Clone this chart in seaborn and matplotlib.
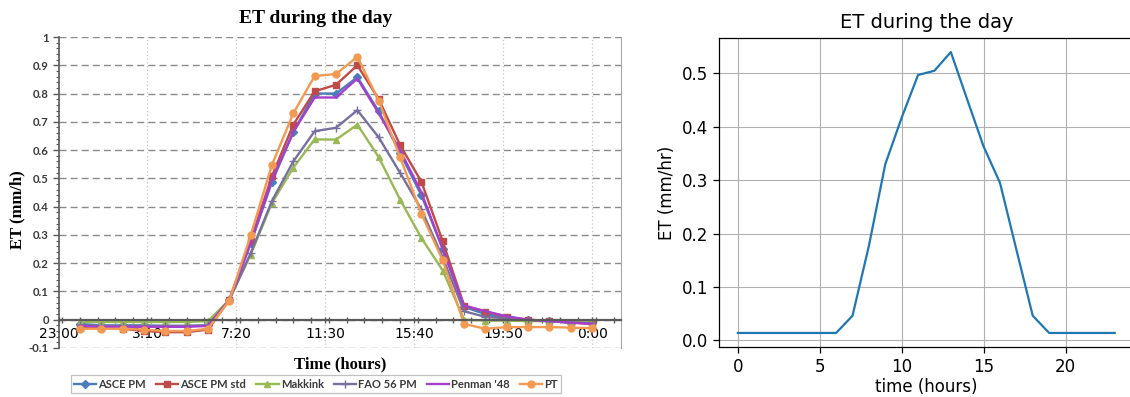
import numpy as np
import matplotlib
matplotlib.use("Agg")
import matplotlib.pyplot as plt
from matplotlib.ticker import FixedLocator, MultipleLocator
import seaborn as sns

# ---- left panel: hourly ET from six methods (hour 0 .. 24) ----
hours_left = [0, 1, 2, 3, 4, 5, 6, 7, 8, 9, 10, 11, 12, 13, 14, 15, 16, 17, 18, 19, 20, 21, 22, 23, 24]

asce_pm = [-0.015, -0.02, -0.02, -0.02, -0.022, -0.022, -0.02, 0.07, 0.27, 0.487, 0.664, 0.80, 0.80,
           0.858, 0.737, 0.59, 0.44, 0.251, 0.045, 0.02, 0.005, 0.0, -0.005, -0.01, -0.01]
asce_pm_std = [-0.03, -0.03, -0.032, -0.04, -0.044, -0.044, -0.035, 0.07, 0.28, 0.508, 0.69, 0.808, 0.831,
               0.90, 0.78, 0.618, 0.488, 0.277, 0.05, 0.029, 0.01, 0.0, -0.005, -0.01, -0.015]
makkink = [-0.008, -0.008, -0.008, -0.008, -0.008, -0.008, -0.005, 0.07, 0.23, 0.413, 0.538, 0.638, 0.637,
           0.69, 0.575, 0.425, 0.289, 0.174, 0.0, -0.003, -0.003, -0.005, -0.005, -0.008, -0.01]
fao56_pm = [-0.02, -0.022, -0.022, -0.022, -0.022, -0.022, -0.02, 0.07, 0.235, 0.42, 0.56, 0.667, 0.679,
            0.741, 0.645, 0.52, 0.39, 0.22, 0.03, 0.01, 0.005, 0.0, -0.005, -0.01, -0.012]
penman_48 = [-0.022, -0.025, -0.025, -0.025, -0.025, -0.025, -0.022, 0.07, 0.27, 0.495, 0.664, 0.786, 0.786,
             0.853, 0.73, 0.60, 0.45, 0.25, 0.05, 0.03, 0.012, 0.0, -0.005, -0.01, -0.015]
pt = [-0.032, -0.032, -0.032, -0.035, -0.04, -0.04, -0.032, 0.068, 0.298, 0.548, 0.73, 0.862, 0.869,
      0.93, 0.775, 0.575, 0.375, 0.21, -0.015, -0.032, -0.026, -0.026, -0.026, -0.028, -0.03]

method_names = ["ASCE PM", "ASCE PM std", "Makkink", "FAO 56 PM", "Penman '48", "PT"]
left_time_ticks = [-1, 3 + 10 / 60, 7 + 20 / 60, 11.5, 15 + 40 / 60, 19 + 50 / 60, 24]
left_time_labels = ["23:00", "3:10", "7:20", "11:30", "15:40", "19:50", "0:00"]
left_y_ticks = [-0.1, 0, 0.1, 0.2, 0.3, 0.4, 0.5, 0.6, 0.7, 0.8, 0.9, 1.0]
left_y_labels = ["-0.1", "0", "0.1", "0.2", "0.3", "0.4", "0.5", "0.6", "0.7", "0.8", "0.9", "1"]

# ---- right panel: modelled hourly ET ----
hours_right = [0, 1, 2, 3, 4, 5, 6, 7, 8, 9, 10, 11, 12, 13, 14, 15, 16, 17, 18, 19, 20, 21, 22, 23]
et_right = [0.0137, 0.0137, 0.0137, 0.0137, 0.0137, 0.0137, 0.0137, 0.046, 0.177, 0.33, 0.417, 0.497,
            0.505, 0.54, 0.451, 0.363, 0.295, 0.17, 0.046, 0.0137, 0.0137, 0.0137, 0.0137, 0.0137]

series = [asce_pm, asce_pm_std, makkink, fao56_pm, penman_48, pt]
colors = ["#4a7ebb", "#be4b48", "#98b954", "#77709e", "#a63fcc", "#f39a52"]
markers = ["D", "s", "^", "+", None, "o"]
msizes = [4, 5, 5, 6, 0, 5]

fig = plt.figure(figsize=(11.3, 3.97), dpi=100)
W, H = 1130.0, 397.0

# ================= left panel =================
axl = fig.add_axes([58.5 / W, (H - 348) / H, (621 - 58.5) / W, (348 - 37) / H])
for vals, name, col, mk, ms in zip(series, method_names, colors, markers, msizes):
    kw = dict(marker=mk, markersize=ms, markeredgecolor=col, markeredgewidth=1.0) if mk else {}
    sns.lineplot(x=hours_left, y=vals, ax=axl, color=col, linewidth=1.7, label=name, **kw)

axl.set_xlim(-1, 25.35)
axl.set_ylim(-0.1, 1.0)
axl.yaxis.set_major_locator(FixedLocator(left_y_ticks))
axl.set_yticklabels(left_y_labels)
axl.yaxis.set_minor_locator(MultipleLocator(0.02))
axl.xaxis.set_major_locator(FixedLocator(left_time_ticks))
axl.set_xticklabels(left_time_labels)
axl.xaxis.set_minor_locator(MultipleLocator(50 / 60))

for lab in axl.get_xticklabels() + axl.get_yticklabels():
    lab.set_fontfamily("Lato")
    lab.set_fontweight("bold")
    lab.set_fontsize(8.2)
    lab.set_color("#3a3a3a")

axl.spines["top"].set_visible(False)
axl.spines["right"].set_color("#a8a8a8")
axl.spines["right"].set_linewidth(0.8)
axl.spines["left"].set_color("#5a5a5a")
axl.spines["left"].set_linewidth(1.2)
axl.spines["bottom"].set_position(("data", 0))
axl.spines["bottom"].set_color("#5a5a5a")
axl.spines["bottom"].set_linewidth(1.6)

axl.tick_params(axis="x", which="major", direction="inout", length=5, width=1, color="#5a5a5a", pad=3)
axl.tick_params(axis="x", which="minor", direction="inout", length=4, width=1, color="#5a5a5a")
axl.tick_params(axis="y", which="major", direction="out", length=4, width=1, color="#5a5a5a", pad=3)
axl.tick_params(axis="y", which="minor", direction="out", length=2.5, width=0.8, color="#5a5a5a")

axl.grid(axis="y", which="major", color="#8a8a8a", linestyle=(0, (5, 3)), linewidth=1.0)
axl.grid(axis="x", which="major", color="#c4c4c4", linestyle=(0, (1, 2)), linewidth=0.9)
axl.set_axisbelow(True)

axl.set_title("ET during the day", x=0.458, pad=10,
              fontdict=dict(family="Liberation Serif", weight="bold", size=14))
axl.set_xlabel("Time (hours)", family="Liberation Serif", weight="bold", size=12)
axl.xaxis.set_label_coords(0.5, -0.028)
axl.set_ylabel("ET (mm/h)", family="Liberation Serif", weight="bold", size=12)
axl.yaxis.set_label_coords(-0.058, 0.444)

leg = axl.legend(loc="center", bbox_to_anchor=(316 / W, 1 - 384 / H), bbox_transform=fig.transFigure,
                 ncol=6, frameon=True, fancybox=False, edgecolor="#c0c0c0", framealpha=1,
                 prop=dict(family="Lato", weight="bold", size=8), handlelength=2.0,
                 handletextpad=0.2, columnspacing=0.9, borderpad=0.3)
leg.get_frame().set_linewidth(0.9)
for t in leg.get_texts():
    t.set_color("#3a3a3a")

# ================= right panel =================
axr = fig.add_axes([719 / W, (H - 347) / H, (1133.5 - 719) / W, (347 - 38) / H])
sns.lineplot(x=hours_right, y=et_right, ax=axr, color="#1f77b4", linewidth=1.6)
axr.set_xticks([0, 5, 10, 15, 20])
axr.set_yticks([0.0, 0.1, 0.2, 0.3, 0.4, 0.5])
axr.set_yticklabels(["0.0", "0.1", "0.2", "0.3", "0.4", "0.5"])
axr.grid(True, color="#b0b0b0", linewidth=0.8)
axr.set_axisbelow(True)
axr.tick_params(labelsize=12, length=4.5, width=0.9)
for sp in axr.spines.values():
    sp.set_linewidth(0.9)
axr.set_title("ET during the day", fontsize=14, pad=7)
axr.set_xlabel("time (hours)", fontsize=12, labelpad=1)
axr.set_ylabel("ET (mm/hr)", fontsize=12)

fig.savefig("out.png", dpi=100)
